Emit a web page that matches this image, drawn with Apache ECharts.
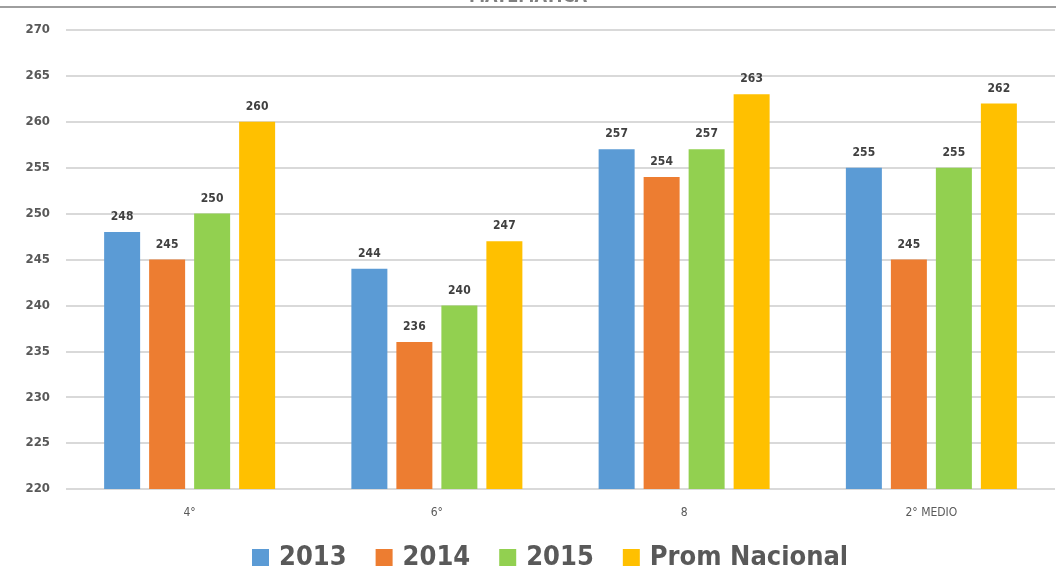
<!DOCTYPE html>
<html>
<head>
<meta charset="utf-8">
<script src="https://cdn.jsdelivr.net/npm/echarts@6/dist/echarts.min.js"></script>
<style>
  html, body { margin: 0; padding: 0; background: #fff; }
  #mychart { width: 1056px; height: 570px; }
</style>
</head>
<body>
<div id="mychart"></div>
<script>
var categories = ['4°', '6°', '8', '2° MEDIO'];
var names = ['2013', '2014', '2015', 'Prom Nacional'];
var colors = ['#5B9BD5', '#ED7D31', '#92D050', '#FFC000'];
var v2013 = [248, 244, 257, 255];
var v2014 = [245, 236, 254, 245];
var v2015 = [250, 240, 257, 255];
var vProm = [260, 247, 263, 262];
var values = [v2013, v2014, v2015, vProm];

var font = "'Liberation Sans Narrow', 'DejaVu Sans Condensed', sans-serif";

var series = [];
for (var i = 0; i < names.length; i++) {
    series.push({
        name: names[i],
        type: 'bar',
        data: values[i],
        barWidth: 36,
        barGap: '25%',
        itemStyle: {color: colors[i]},
        label: {
            show: true,
            position: 'top',
            distance: 9,
            color: '#404040',
            fontWeight: 'bold',
            fontSize: 12,
            fontFamily: font
        }
    });
}

var option = {
    animation: false,
    title: {
        text: 'MATEMÁTICA',
        left: 'center',
        top: -17,
        textStyle: {color: '#7f7f7f', fontSize: 18, fontWeight: 'bold', fontFamily: font}
    },
    graphic: [{
        type: 'line',
        shape: {x1: 0, y1: 7, x2: 1056, y2: 7},
        style: {stroke: '#9e9e9e', lineWidth: 2}
    }],
    grid: {
        left: 66,
        right: 1,
        top: 30,
        bottom: 81
    },
    legend: {
        data: names,
        left: 247,
        bottom: -6,
        itemWidth: 17,
        itemHeight: 17,
        itemGap: 29,
        icon: 'rect',
        textStyle: {color: '#595959', fontSize: 27, fontWeight: 'bold', fontFamily: font, padding: [0, 0, 0, 5]}
    },
    xAxis: [{
        type: 'category',
        data: categories,
        axisLine: {show: false},
        axisTick: {show: false},
        axisLabel: {color: '#595959', fontSize: 12, margin: 18, fontFamily: font}
    }],
    yAxis: [{
        type: 'value',
        min: 220,
        max: 270,
        interval: 5,
        axisLine: {show: false},
        axisTick: {show: false},
        axisLabel: {color: '#595959', fontSize: 13, fontWeight: 'bold', margin: 16, fontFamily: font},
        splitLine: {lineStyle: {color: '#d9d9d9', width: 2}}
    }],
    series: series
};

var mychart = echarts.init(document.getElementById('mychart'));
mychart.setOption(option);
</script>
</body>
</html>
